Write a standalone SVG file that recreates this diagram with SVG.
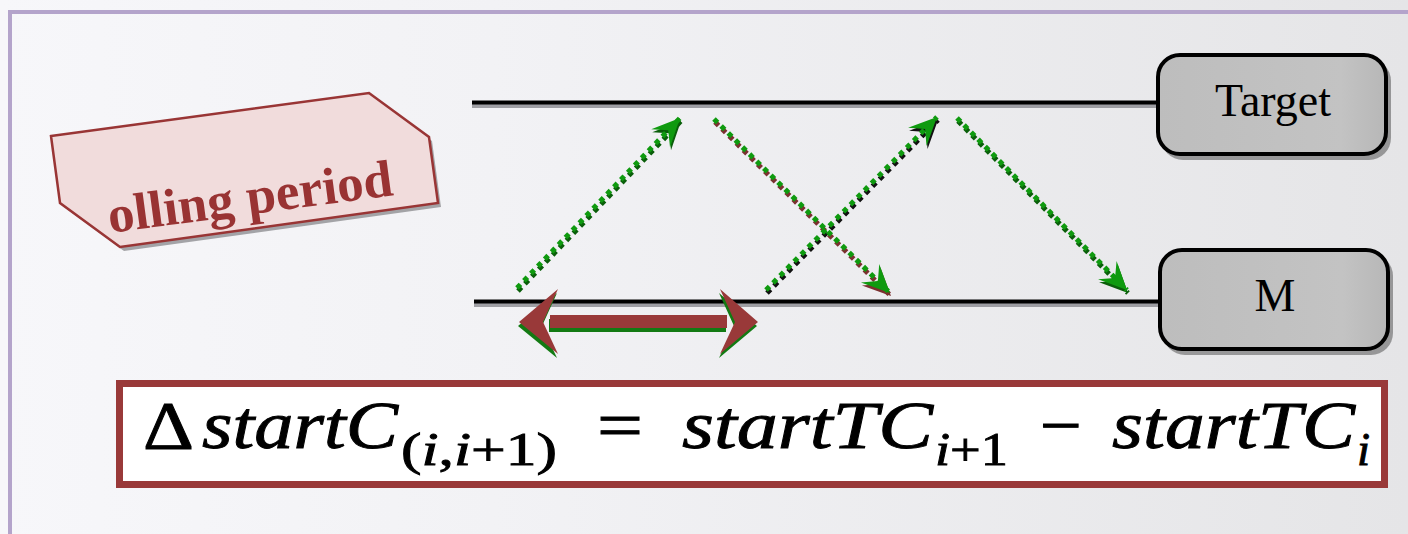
<svg xmlns="http://www.w3.org/2000/svg" width="1408" height="534" viewBox="0 0 1408 534">
  <defs>
    <linearGradient id="bg" x1="0" y1="0" x2="1" y2="0">
      <stop offset="0" stop-color="#f7f7fa"/>
      <stop offset="0.35" stop-color="#f2f2f5"/>
      <stop offset="1" stop-color="#e5e5e7"/>
    </linearGradient>
    <linearGradient id="boxfill" x1="0" y1="0" x2="1" y2="0">
      <stop offset="0" stop-color="#bdbdbd"/>
      <stop offset="0.8" stop-color="#c3c3c3"/>
      <stop offset="1" stop-color="#b7b7b7"/>
    </linearGradient>
    <marker id="hg" markerUnits="userSpaceOnUse" orient="auto" markerWidth="34" markerHeight="32" viewBox="-32 -16 34 32" refX="0" refY="0">
      <path d="M0,0 L-28,-13 L-17,0 L-28,13 Z" fill="#0f9a0f"/>
    </marker>
    <marker id="hk" markerUnits="userSpaceOnUse" orient="auto" markerWidth="34" markerHeight="32" viewBox="-32 -16 34 32" refX="0" refY="0">
      <path d="M0,0 L-28,-13 L-17,0 L-28,13 Z" fill="#111"/>
    </marker>
    <marker id="hb" markerUnits="userSpaceOnUse" orient="auto" markerWidth="34" markerHeight="32" viewBox="-32 -16 34 32" refX="0" refY="0">
      <path d="M0,0 L-28,-13 L-17,0 L-28,13 Z" fill="#7b3030"/>
    </marker>
    <marker id="hd" markerUnits="userSpaceOnUse" orient="auto" markerWidth="34" markerHeight="32" viewBox="-32 -16 34 32" refX="0" refY="0">
      <path d="M0,0 L-28,-13 L-17,0 L-28,13 Z" fill="#0a5e0a"/>
    </marker>
  </defs>
  <style>
    .life { stroke: #000; stroke-width: 4; fill: none; }
    .lifesh { stroke: #8a8a90; stroke-width: 4; fill: none; opacity: 0.8; }
    .dot { fill: none; stroke-width: 5; stroke-dasharray: 5 5; }
    .g { stroke: #0f9a0f; }
    .box { fill: url(#boxfill); stroke: #000; stroke-width: 4; }
    .boxsh { fill: #555; opacity: 0.55; }
    .lbl { font-family: "Liberation Serif", "Times New Roman", serif; font-size: 46px; fill: #000; text-anchor: middle; }
    .fm { font-family: "Liberation Serif", "Times New Roman", serif; fill: #000; stroke: #000; stroke-width: 0.9; }
    .it { font-style: italic; }
  </style>

  <!-- background -->
  <rect x="0" y="0" width="1408" height="534" fill="url(#bg)"/>
  <rect x="8" y="10" width="1400" height="4" fill="#b4a4cb"/>
  <rect x="8" y="10" width="4" height="524" fill="#b4a4cb"/>

  <!-- connectors -->
  <g id="connectors">
    <line class="lifesh" x1="472" y1="106" x2="1158" y2="106"/>
    <line class="life" x1="472" y1="102.5" x2="1158" y2="102.5"/>
    <line class="lifesh" x1="474" y1="305" x2="1160" y2="305"/>
    <line class="life" x1="474" y1="301.5" x2="1160" y2="301.5"/>

    <!-- shadows -->
    <g transform="translate(1,3)">
      <path class="dot" stroke="#0a5e0a" d="M517,288 L680,118" marker-end="url(#hd)"/>
      <path class="dot" stroke="#7b3030" d="M714,119 L890,293" marker-end="url(#hb)"/>
      <path class="dot" stroke="#111" d="M766,290 L937,117" marker-end="url(#hk)"/>
      <path class="dot" stroke="#0a5e0a" d="M957,118 L1127,290" marker-end="url(#hd)"/>
    </g>
    <path class="dot g" d="M517,288 L680,118" marker-end="url(#hg)"/>
    <path class="dot g" d="M714,119 L890,293" marker-end="url(#hg)"/>
    <path class="dot g" d="M766,290 L937,117" marker-end="url(#hg)"/>
    <path class="dot g" d="M957,118 L1127,290" marker-end="url(#hg)"/>
  </g>

  <!-- Target node -->
  <g id="target">
    <rect class="boxsh" x="1161" y="59" width="230" height="101" rx="22"/>
    <rect class="box" x="1158" y="55" width="228" height="99" rx="22"/>
    <text class="lbl" x="1273" y="116">Target</text>
  </g>

  <!-- M node -->
  <g id="m">
    <rect class="boxsh" x="1163" y="254" width="230" height="101" rx="22"/>
    <rect class="box" x="1160" y="250" width="228" height="99" rx="22"/>
    <text class="lbl" x="1275" y="311">M</text>
  </g>

  <!-- polling period label -->
  <g id="polling-label">
    <polygon points="54,140 372,97 432,141 441,207 124,251 64,207" fill="#8e8e92" opacity="0.8"/>
    <polygon points="51,136 369,93 429,137 438,203 120,247 60,203" fill="#f1dcdc" stroke="#993535" stroke-width="2.5"/>
    <text x="110" y="233" transform="rotate(-7.6 110 233)" font-family="Liberation Serif, Times New Roman, serif" font-weight="bold" font-size="52" fill="#993333" textLength="287" lengthAdjust="spacingAndGlyphs">olling period</text>
  </g>

  <!-- double arrow -->
  <g id="interval">
    <g transform="translate(-1,4)" fill="#137a13">
      <rect x="550" y="315" width="177" height="13"/>
      <path d="M519,322 L558,289 L543,322 L558,354 Z"/>
      <path d="M758,322 L720,289 L735,322 L720,354 Z"/>
    </g>
    <g fill="#993939">
      <rect x="550" y="315" width="177" height="13"/>
      <path d="M519,322 L558,289 L543,322 L558,354 Z"/>
      <path d="M758,322 L720,289 L735,322 L720,354 Z"/>
    </g>
  </g>

  <!-- formula -->
  <g id="formula">
    <rect x="119.5" y="383.5" width="1265" height="101" fill="#ffffff" stroke="#993939" stroke-width="7"/>
    <text class="fm" x="143" y="448" font-size="67" textLength="51" lengthAdjust="spacingAndGlyphs">Δ</text>
    <text class="fm it" x="202" y="448" font-size="67" textLength="196" lengthAdjust="spacingAndGlyphs">startC</text>
    <text class="fm" x="401" y="465" font-size="47" textLength="156" lengthAdjust="spacingAndGlyphs">(<tspan class="it">i</tspan>,<tspan class="it">i</tspan>+1)</text>
    <text class="fm" x="597" y="448" font-size="67" textLength="46" lengthAdjust="spacingAndGlyphs">=</text>
    <text class="fm it" x="682" y="448" font-size="67" textLength="251" lengthAdjust="spacingAndGlyphs">startTC</text>
    <text class="fm" x="935" y="465" font-size="47" textLength="73" lengthAdjust="spacingAndGlyphs"><tspan class="it">i</tspan>+1</text>
    <text class="fm" x="1040" y="448" font-size="67" textLength="42" lengthAdjust="spacingAndGlyphs">−</text>
    <text class="fm it" x="1112" y="448" font-size="67" textLength="243" lengthAdjust="spacingAndGlyphs">startTC</text>
    <text class="fm it" x="1357" y="465" font-size="47">i</text>
  </g>
</svg>
